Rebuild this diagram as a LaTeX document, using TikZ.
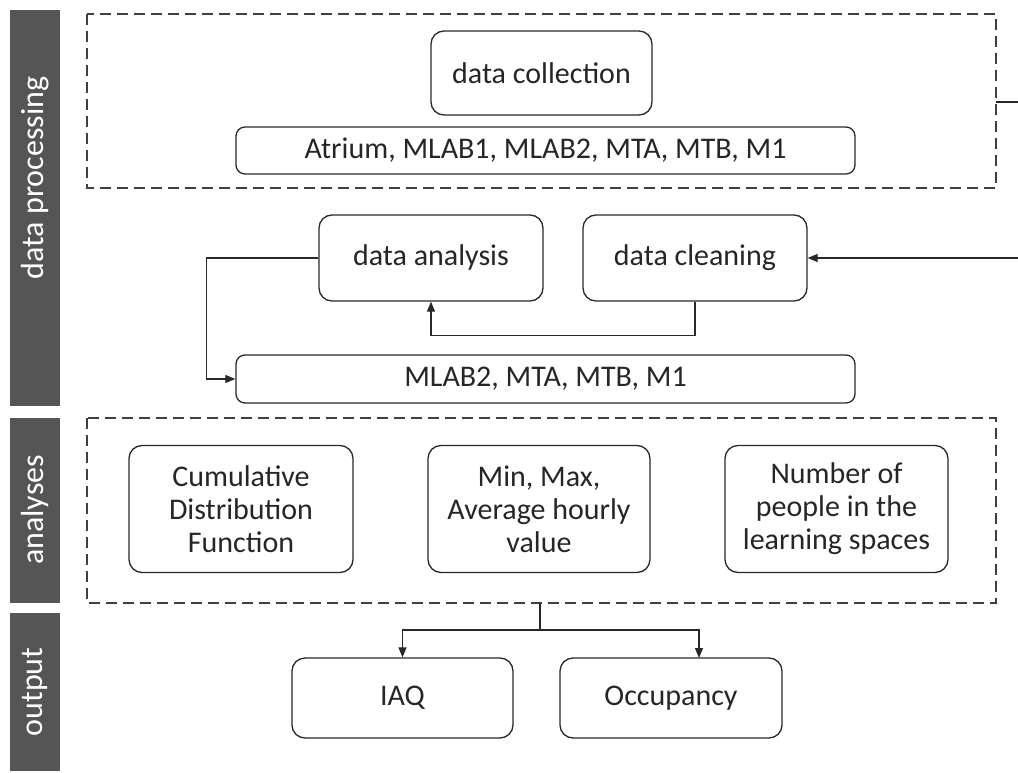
\documentclass[tikz,border=0pt]{standalone}
\usepackage{fontspec}
\setmainfont{Carlito}
\usetikzlibrary{arrows.meta}
\definecolor{barc}{RGB}{85,85,85}
\definecolor{linec}{RGB}{40,40,40}
\begin{document}
\begin{tikzpicture}[x=1pt,y=-1pt,
  box/.style={draw=linec, line width=1.3pt, rounded corners=13pt, align=center,
    inner sep=0pt, font=\fontsize{30}{33}\selectfont, text=black!85},
  dbox/.style={draw=black!75, line width=1.6pt, dash pattern=on 11pt off 6pt},
  bar/.style={fill=barc, draw=none},
  bartext/.style={text=white, rotate=90, font=\fontsize{32}{34}\selectfont},
  conn/.style={draw=linec, line width=1.1pt},
  arr/.style={conn, -{Triangle[length=10pt,width=8pt]}}]
\useasboundingbox (0,0) rectangle (1018,773);
% side bars
\fill[bar] (10,10) rectangle (60,406);
\fill[bar] (10,418) rectangle (60,603);
\fill[bar] (10,613) rectangle (60,771);
\node[bartext] (lp) at (35,178) {data processing};
\node[bartext] (la) at (35,510) {analyses};
\node[bartext] (lo) at (35,692) {output};
% dashed groups
\draw[dbox] (87,14) rectangle (996,188);
\draw[dbox] (87,418) rectangle (996,603);
\coordinate (g1r) at (996,102);
\coordinate (e1) at (1018,102);
\coordinate (e2) at (1018,258);
\coordinate (g2b) at (540,603);
% nodes
\node[box, minimum width=221pt, minimum height=84pt] (coll) at (541.5,73) {data collection};
\node[box, rounded corners=9pt, minimum width=619pt, minimum height=47pt] (sites) at (545.5,150.5) {Atrium, MLAB1, MLAB2, MTA, MTB, M1};
\node[box, minimum width=224pt, minimum height=86pt] (anal) at (431,258) {data analysis};
\node[box, minimum width=224pt, minimum height=86pt] (clean) at (695,258) {data cleaning};
\node[box, rounded corners=9pt, minimum width=619pt, minimum height=48pt] (sub) at (545.5,379) {MLAB2, MTA, MTB, M1};
\node[box, minimum width=224pt, minimum height=127pt] (cdf) at (241,509) {Cumulative\\Distribution\\Function};
\node[box, minimum width=222pt, minimum height=127pt] (mm) at (539,509) {Min, Max,\\Average hourly\\value};
\node[box, minimum width=223pt, minimum height=127pt] (np) at (836.5,509) {Number of\\people in the\\learning spaces};
\node[box, minimum width=221pt, minimum height=80pt] (iaq) at (402.5,698) {IAQ};
\node[box, minimum width=222pt, minimum height=80pt] (occ) at (671,698) {Occupancy};
\coordinate (occin) at (699,658);
% connectors
\draw[conn] (g1r) -- (e1);
\draw[arr] (e2) -- (clean.east);
\draw[arr] (clean.south) -- ++(0,34) -| (anal.south);
\draw[arr] (anal.west) -- ++(-112,0) |- (sub.west);
\draw[arr] (g2b) -- ++(0,27) -| (iaq.north);
\draw[arr] (g2b) -- ++(0,27) -| (occin);
\end{tikzpicture}
\end{document}
